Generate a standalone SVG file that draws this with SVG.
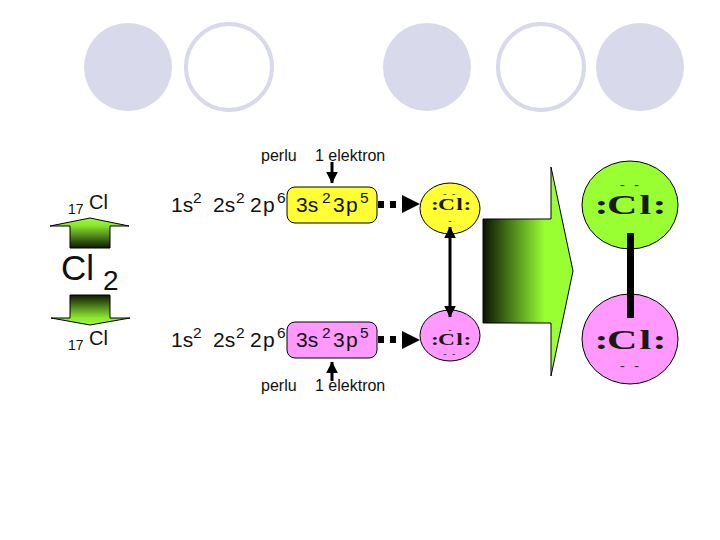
<svg xmlns="http://www.w3.org/2000/svg" width="720" height="540" viewBox="0 0 720 540">
<style>
text{font-family:"Liberation Sans",Arial,sans-serif;fill:#111}
.f{fill:#d9d9ec}
.r{fill:#fff;stroke:#d9d9ec;stroke-width:4}
.m{font-size:21px}
.s{font-size:15.5px}
.l{font-size:16px}
.o{stroke:#000;stroke-width:1}
.e{font-family:"Liberation Serif","Times New Roman",serif;font-weight:bold;font-size:28px;fill:#1a1a10}
.d{font-family:"Liberation Serif","Times New Roman",serif;fill:#333}
.w{stroke:#000;stroke-width:3;fill:none}
</style>
<defs>
<linearGradient id="gUp" x1="0" y1="0" x2="0" y2="1"><stop offset="0" stop-color="#99ff33"/><stop offset="0.25" stop-color="#8be52e"/><stop offset="1" stop-color="#0c1a04"/></linearGradient>
<linearGradient id="gDown" x1="0" y1="1" x2="0" y2="0"><stop offset="0" stop-color="#99ff33"/><stop offset="0.25" stop-color="#8be52e"/><stop offset="1" stop-color="#0c1a04"/></linearGradient>
<linearGradient id="gBig" gradientUnits="userSpaceOnUse" x1="483" y1="0" x2="545" y2="0"><stop offset="0" stop-color="#0a1403"/><stop offset="1" stop-color="#99ff33"/></linearGradient>
<marker id="h" markerWidth="4" markerHeight="4" refX="3.8" refY="2" orient="auto-start-reverse" markerUnits="strokeWidth"><path d="M0 0L4 2L0 4Z" fill="#000"/></marker>
</defs>
<g id="decor">
<circle class="f" cx="128" cy="67" r="44"/>
<circle class="r" cx="229" cy="67" r="43"/>
<circle class="f" cx="427" cy="67" r="44"/>
<circle class="r" cx="541" cy="67" r="43"/>
<circle class="f" cx="640" cy="67" r="44"/>
</g>
<g id="arrow-top"><path class="o" d="M50 226L90 218L129 226H110V248H70V226Z" fill="url(#gUp)"/></g>
<g id="arrow-bottom"><path class="o" d="M51 318H70V295H110V318H130L90 325Z" fill="url(#gDown)"/></g>
<g id="label-cl2">
<text x="61" y="280" font-size="35">Cl</text>
<text x="103" y="290" font-size="28">2</text>
</g>
<g id="label-cl-top"><text x="68" y="214" font-size="14">17</text><text x="89" y="209" font-size="20">Cl</text></g>
<g id="label-cl-bottom"><text x="68" y="350" font-size="14">17</text><text x="89" y="345" font-size="20">Cl</text></g>
<g id="config-top">
<rect x="287" y="187" width="90" height="36" rx="8" fill="#ffff33" stroke="#000"/>
<text x="171" y="212" class="m">1s</text><text x="193" y="203" class="s">2</text>
<text x="213" y="212" class="m">2s</text><text x="236" y="203" class="s">2</text>
<text x="250" y="212" class="m">2</text><text x="263" y="212" class="m">p</text><text x="277" y="203" class="s">6</text>
<text x="296" y="212" class="m">3s</text><text x="322" y="203" class="s">2</text>
<text x="333" y="212" class="m">3</text><text x="346" y="212" class="m">p</text><text x="360" y="203" class="s">5</text>
</g>
<g id="config-bottom">
<rect x="287" y="322" width="90" height="36" rx="8" fill="#ff99ff" stroke="#000"/>
<text x="171" y="347" class="m">1s</text><text x="193" y="338" class="s">2</text>
<text x="213" y="347" class="m">2s</text><text x="236" y="338" class="s">2</text>
<text x="250" y="347" class="m">2</text><text x="263" y="347" class="m">p</text><text x="277" y="338" class="s">6</text>
<text x="296" y="347" class="m">3s</text><text x="322" y="338" class="s">2</text>
<text x="333" y="347" class="m">3</text><text x="346" y="347" class="m">p</text><text x="360" y="338" class="s">5</text>
</g>
<g id="label-perlu-top"><text x="261" y="161" class="l">perlu</text><text x="315" y="161" class="l">1 elektron</text></g>
<g id="label-perlu-bottom"><text x="261" y="391" class="l">perlu</text><text x="315" y="391" class="l">1 elektron</text></g>
<g id="atom-yellow">
<ellipse cx="450" cy="208.5" rx="30" ry="25.5" fill="#ffff33" stroke="#000"/>
<text class="e" transform="translate(431,210) scale(.84,.56)" x="0 8.3 30 38.7">:Cl:</text>
<text class="d" x="450" y="197" font-size="10" letter-spacing="1.5" text-anchor="middle">- -</text>
<text class="d" x="450" y="224" font-size="10" text-anchor="middle">-</text>
</g>
<g id="atom-pink">
<ellipse cx="450" cy="335.5" rx="30" ry="25.5" fill="#ff99ff" stroke="#000"/>
<text class="e" transform="translate(431,345) scale(.84,.56)" x="0 8.3 30 38.7">:Cl:</text>
<text class="d" x="450" y="333" font-size="10" text-anchor="middle">-</text>
<text class="d" x="450" y="357" font-size="10" letter-spacing="1.5" text-anchor="middle">- -</text>
</g>
<g id="arrow-big"><path class="o" d="M483 219H551V167L573 271L551 376V323H483Z" fill="url(#gBig)"/></g>
<g id="atom-green-large">
<ellipse cx="630" cy="205" rx="48" ry="44" fill="#99ff33" stroke="#000"/>
<text class="e" transform="translate(594.5,214) scale(1.5,1)" x="0 8.3 30 38.7">:Cl:</text>
<text class="d" x="631" y="189" font-size="14" letter-spacing="3" text-anchor="middle">- -</text>
</g>
<g id="atom-pink-large">
<ellipse cx="630" cy="339" rx="48" ry="45" fill="#ff99ff" stroke="#000"/>
<text class="e" transform="translate(594.5,349) scale(1.5,1)" x="0 8.3 30 38.7">:Cl:</text>
<text class="d" x="631" y="370" font-size="14" letter-spacing="3" text-anchor="middle">- -</text>
</g>
<g id="connectors">
<path class="w" d="M332 162V183" marker-end="url(#h)"/>
<path class="w" d="M332 381V362" marker-end="url(#h)"/>
<path class="w" d="M450 227V317" marker-start="url(#h)" marker-end="url(#h)"/>
<path d="M378 201h6v7h-6zM390 201h6v7h-6zM402 195L420 204L402 213Z" fill="#000"/>
<path d="M378 336h6v7h-6zM390 336h6v7h-6zM402 331L420 340L402 349Z" fill="#000"/>
<rect x="627" y="233" width="7" height="85" fill="#000"/>
</g>
</svg>
